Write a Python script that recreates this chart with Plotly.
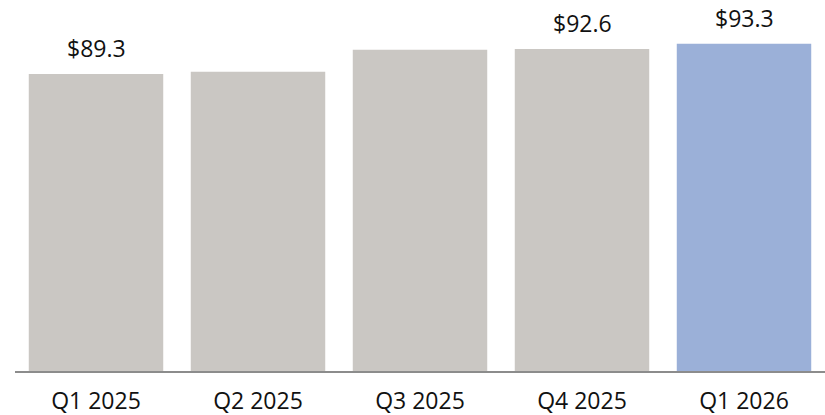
import plotly.graph_objects as go

quarters = ["Q1 2025", "Q2 2025", "Q3 2025", "Q4 2025", "Q1 2026"]
values = [89.3, 89.6, 92.5, 92.6, 93.3]
labels = ["$89.3", "", "", "$92.6", "$93.3"]
colors = ["#cac7c3", "#cac7c3", "#cac7c3", "#cac7c3", "#9bb0d8"]

FONT = "Open Sans"

fig = go.Figure()
fig.add_trace(go.Bar(x=quarters, y=values, marker=dict(color=colors, line=dict(width=0)),
                     hoverinfo="skip"))

# value labels over some of the bars
for q, v, lab in zip(quarters, values, labels):
    if lab:
        fig.add_annotation(x=q, y=v, text=lab, showarrow=False, yanchor="middle",
                           yshift=26, font=dict(family=FONT, size=23, color="#111111"))

fig.update_layout(
    width=825, height=415,
    margin=dict(l=15, r=0, t=0, b=44),
    paper_bgcolor="white", plot_bgcolor="white",
    bargap=0.17, showlegend=False,
    font=dict(family=FONT, size=23, color="#111111"),
)
fig.update_xaxes(showline=True, linecolor="#8c8c8c", linewidth=1.5, ticks="",
                 automargin=False, ticklabelstandoff=9,
                 tickfont=dict(family=FONT, size=23, color="#111111"))
fig.update_yaxes(range=[50, 99.1], visible=False, showgrid=False)

fig.write_html("out.html", config={"displayModeBar": False},
               post_script="document.body.style.margin='0';")
